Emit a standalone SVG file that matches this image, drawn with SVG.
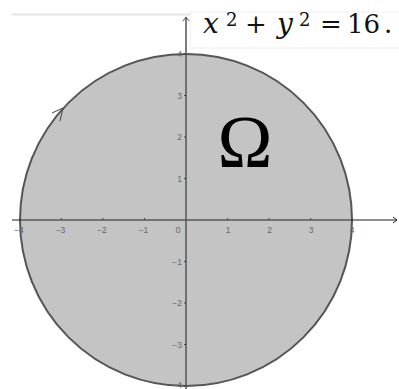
<svg xmlns="http://www.w3.org/2000/svg" width="399" height="389" viewBox="0 0 399 389">
<style>
.tk{font-family:"Liberation Sans",Arial,sans-serif;font-size:8.5px;fill:#666}
.tx{text-anchor:middle}
.ty{text-anchor:end}
.tick{stroke:#444;stroke-width:1}
.eq{font-family:"DejaVu Serif","Liberation Serif",serif;fill:#111;font-size:26px}
.it{font-style:italic;font-size:28px}
.sup{font-size:18px}
</style>
<rect width="399" height="389" fill="#fff"/>
<line x1="12" y1="14.5" x2="190" y2="14.5" stroke="#e6e6e6" stroke-width="2"/>
<g id="region">
<circle cx="186" cy="220" r="166" fill="#c4c4c4" stroke="#555" stroke-width="2"/>
</g>
<g id="equation-box">
<rect x="190.5" y="12" width="210" height="36" fill="#fff" stroke="#f0f0f0" stroke-width="1"/>
</g>
<g id="connectors">
<line x1="12" y1="220" x2="397" y2="220" stroke="#222" stroke-width="1.2"/>
<polyline points="393,217 397,220 393,223" fill="none" stroke="#222" stroke-width="1"/>
<line x1="186" y1="389" x2="186" y2="17" stroke="#555" stroke-width="1.5"/>
<polyline points="183,21 186,17 189,21" fill="none" stroke="#555" stroke-width="1"/>
<polyline points="52,113 63,108 60,121" fill="none" stroke="#444" stroke-width="1"/>
</g>
<g id="ticks">
<g class="tick">
<line x1="20" y1="218" x2="20" y2="220"/><line x1="61.5" y1="218" x2="61.5" y2="220"/>
<line x1="103" y1="218" x2="103" y2="220"/><line x1="144.5" y1="218" x2="144.5" y2="220"/>
<line x1="227.5" y1="218" x2="227.5" y2="220"/><line x1="269" y1="218" x2="269" y2="220"/>
<line x1="310.5" y1="218" x2="310.5" y2="220"/><line x1="352" y1="218" x2="352" y2="220"/>
<line x1="184" y1="54" x2="186" y2="54"/><line x1="184" y1="95.5" x2="186" y2="95.5"/>
<line x1="184" y1="137" x2="186" y2="137"/><line x1="184" y1="178.5" x2="186" y2="178.5"/>
<line x1="184" y1="261.5" x2="186" y2="261.5"/><line x1="184" y1="303" x2="186" y2="303"/>
<line x1="184" y1="344.5" x2="186" y2="344.5"/><line x1="184" y1="386" x2="186" y2="386"/>
</g>
<text class="tk tx" x="19" y="233">−4</text>
<text class="tk tx" x="60.5" y="233">−3</text>
<text class="tk tx" x="102" y="233">−2</text>
<text class="tk tx" x="143.5" y="233">−1</text>
<text class="tk tx" x="178" y="233">0</text>
<text class="tk tx" x="228" y="233">1</text>
<text class="tk tx" x="269.5" y="233">2</text>
<text class="tk tx" x="311" y="233">3</text>
<text class="tk tx" x="352" y="233">4</text>
<text class="tk ty" x="182" y="57">4</text>
<text class="tk ty" x="182" y="98.5">3</text>
<text class="tk ty" x="182" y="140">2</text>
<text class="tk ty" x="182" y="181.5">1</text>
<text class="tk ty" x="182" y="264.5">−1</text>
<text class="tk ty" x="182" y="306">−2</text>
<text class="tk ty" x="182" y="347.5">−3</text>
<text class="tk ty" x="182" y="388">−4</text>
</g>
<g id="equation">
<text class="eq it" x="203" y="33">x</text>
<text class="eq sup" x="226" y="26">2</text>
<text class="eq" x="245" y="33">+</text>
<text class="eq it" x="277" y="33">y</text>
<text class="eq sup" x="299" y="26">2</text>
<text class="eq" x="320" y="33">=</text>
<text class="eq" x="347" y="33">16</text>
<text class="eq" x="384" y="33">.</text>
</g>
<g id="omega">
<text x="245" y="167" font-family="'Liberation Serif','DejaVu Serif',serif" font-size="74" text-anchor="middle" fill="#000">Ω</text>
</g>
</svg>
